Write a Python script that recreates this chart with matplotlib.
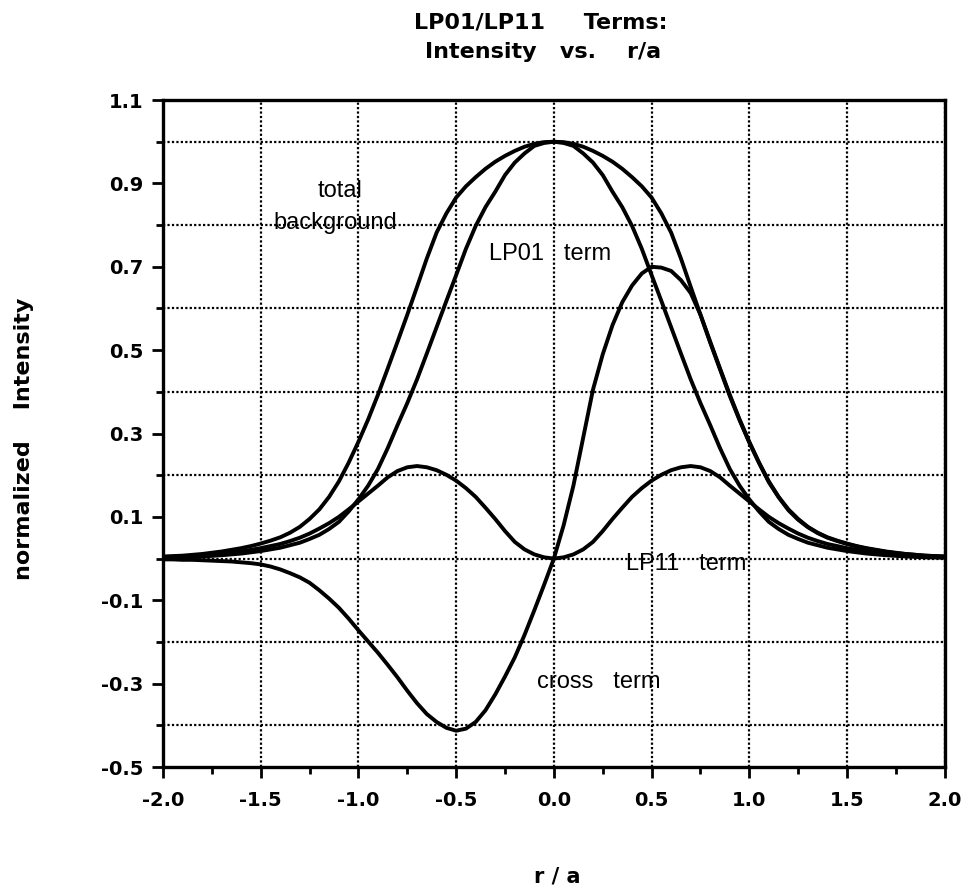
import matplotlib
matplotlib.use("Agg")
import matplotlib.pyplot as plt
from matplotlib.ticker import MultipleLocator, FixedLocator

# radial coordinate r/a, sampled every 0.05
r = [-2.00, -1.95, -1.90, -1.85, -1.80, -1.75, -1.70, -1.65, -1.60, -1.55,
     -1.50, -1.45, -1.40, -1.35, -1.30, -1.25, -1.20, -1.15, -1.10, -1.05,
     -1.00, -0.95, -0.90, -0.85, -0.80, -0.75, -0.70, -0.65, -0.60, -0.55,
     -0.50, -0.45, -0.40, -0.35, -0.30, -0.25, -0.20, -0.15, -0.10, -0.05,
     0.00,
     0.05, 0.10, 0.15, 0.20, 0.25, 0.30, 0.35, 0.40, 0.45, 0.50,
     0.55, 0.60, 0.65, 0.70, 0.75, 0.80, 0.85, 0.90, 0.95, 1.00,
     1.05, 1.10, 1.15, 1.20, 1.25, 1.30, 1.35, 1.40, 1.45, 1.50,
     1.55, 1.60, 1.65, 1.70, 1.75, 1.80, 1.85, 1.90, 1.95, 2.00]

total_background = [
    0.005, 0.006, 0.007, 0.009, 0.011, 0.014, 0.017, 0.021, 0.025, 0.030,
    0.036, 0.043, 0.051, 0.062, 0.076, 0.095, 0.118, 0.148, 0.185, 0.23,
    0.28, 0.334, 0.393, 0.456, 0.52, 0.585, 0.652, 0.72, 0.782, 0.828,
    0.866, 0.893, 0.915, 0.935, 0.952, 0.966, 0.978, 0.988, 0.995, 0.999,
    1.0,
    0.999, 0.995, 0.988, 0.978, 0.966, 0.952, 0.935, 0.915, 0.893, 0.866,
    0.828, 0.782, 0.72, 0.652, 0.585, 0.52, 0.456, 0.393, 0.334, 0.28,
    0.23, 0.185, 0.148, 0.118, 0.095, 0.076, 0.062, 0.051, 0.043, 0.036,
    0.030, 0.025, 0.021, 0.017, 0.014, 0.011, 0.009, 0.007, 0.006, 0.005]

lp01_term = [
    0.002, 0.0025, 0.003, 0.004, 0.005, 0.0065, 0.008, 0.010, 0.012, 0.015,
    0.018, 0.022, 0.026, 0.032, 0.038, 0.047, 0.057, 0.071, 0.088, 0.113,
    0.142, 0.175, 0.215, 0.265, 0.32, 0.373, 0.43, 0.492, 0.555, 0.618,
    0.68, 0.743, 0.798, 0.843, 0.88, 0.92, 0.95, 0.972, 0.99, 0.997,
    1.0,
    0.997, 0.99, 0.972, 0.95, 0.92, 0.88, 0.843, 0.798, 0.743, 0.68,
    0.618, 0.555, 0.492, 0.43, 0.373, 0.32, 0.265, 0.215, 0.175, 0.142,
    0.113, 0.088, 0.071, 0.057, 0.047, 0.038, 0.032, 0.026, 0.022, 0.018,
    0.015, 0.012, 0.010, 0.008, 0.0065, 0.005, 0.004, 0.003, 0.0025, 0.002]

lp11_term = [
    0.003, 0.004, 0.005, 0.006, 0.007, 0.009, 0.011, 0.014, 0.017, 0.021,
    0.025, 0.03, 0.035, 0.042, 0.05, 0.06, 0.072, 0.085, 0.10, 0.118,
    0.137, 0.156, 0.175, 0.195, 0.21, 0.219, 0.222, 0.219, 0.212, 0.201,
    0.187, 0.169, 0.148, 0.122, 0.095, 0.066, 0.04, 0.022, 0.01, 0.003,
    0.0,
    0.003, 0.01, 0.022, 0.04, 0.066, 0.095, 0.122, 0.148, 0.169, 0.187,
    0.201, 0.212, 0.219, 0.222, 0.219, 0.21, 0.195, 0.175, 0.156, 0.137,
    0.118, 0.10, 0.085, 0.072, 0.06, 0.05, 0.042, 0.035, 0.03, 0.025,
    0.021, 0.017, 0.014, 0.011, 0.009, 0.007, 0.006, 0.005, 0.004, 0.003]

cross_term = [
    -0.002, -0.002, -0.003, -0.003, -0.004, -0.005, -0.006, -0.007, -0.009, -0.011,
    -0.014, -0.019, -0.026, -0.035, -0.045, -0.058, -0.076, -0.096, -0.118, -0.144,
    -0.172, -0.199, -0.226, -0.255, -0.285, -0.317, -0.347, -0.373, -0.392, -0.406,
    -0.413, -0.408, -0.392, -0.364, -0.326, -0.283, -0.237, -0.183, -0.124, -0.063,
    0.0,
    0.08, 0.175, 0.29, 0.405, 0.49, 0.56, 0.615, 0.655, 0.684, 0.70,
    0.698, 0.69, 0.668, 0.637, 0.585, 0.518, 0.454, 0.39, 0.332, 0.278,
    0.229, 0.183, 0.147, 0.116, 0.093, 0.075, 0.061, 0.05, 0.042, 0.035,
    0.029, 0.024, 0.02, 0.016, 0.013, 0.011, 0.009, 0.007, 0.006, 0.005]

x_ticks = [-2.0, -1.5, -1.0, -0.5, 0.0, 0.5, 1.0, 1.5, 2.0]
y_ticks = [1.1, 0.9, 0.7, 0.5, 0.3, 0.1, -0.1, -0.3, -0.5]
y_grid = [1.0, 0.8, 0.6, 0.4, 0.2, 0.0, -0.2, -0.4]

BOLD = "DejaVu Sans"
PLAIN = "Liberation Sans"

fig = plt.figure(figsize=(9.7, 8.9), dpi=100)
ax = fig.add_axes([0.168, 0.1382, 0.806, 0.7494])

for series in (total_background, lp01_term, lp11_term, cross_term):
    ax.plot(r, series, color="black", lw=2.8, solid_joinstyle="round",
            solid_capstyle="round", zorder=3)

ax.set_xlim(-2.0, 2.0)
ax.set_ylim(-0.5, 1.1)

ax.xaxis.set_major_locator(FixedLocator(x_ticks))
ax.xaxis.set_minor_locator(MultipleLocator(0.25))
ax.yaxis.set_major_locator(FixedLocator(y_ticks))
ax.yaxis.set_minor_locator(FixedLocator(y_grid))
ax.set_xticklabels([f"{v:.1f}" for v in x_ticks])
ax.set_yticklabels([f"{v:.1f}" for v in y_ticks])

ax.grid(which="major", axis="x", color="black", lw=1.6, linestyle=(0, (1, 1)), zorder=1)
ax.grid(which="minor", axis="y", color="black", lw=1.6, linestyle=(0, (1, 1)), zorder=1)
ax.grid(which="major", axis="y", visible=False)

ax.tick_params(which="major", direction="out", length=8, width=2, color="black")
ax.tick_params(which="minor", direction="out", length=5, width=2, color="black")
ax.tick_params(axis="x", which="major", pad=9)
ax.tick_params(axis="y", which="major", pad=6)
for lab in ax.get_xticklabels() + ax.get_yticklabels():
    lab.set_fontfamily(BOLD)
    lab.set_fontweight("bold")
    lab.set_fontsize(14)

for sp in ax.spines.values():
    sp.set_linewidth(2.4)
    sp.set_color("black")

# curve annotations
ax.text(-0.977, 0.868, "total", ha="right", va="baseline", fontsize=17, family=PLAIN, zorder=2)
ax.text(-1.12, 0.79, "background", ha="center", va="baseline", fontsize=17, family=PLAIN, zorder=4)
ax.text(-0.33, 0.716, "LP01   term", ha="left", va="baseline", fontsize=17, family=PLAIN, zorder=4)
ax.text(0.37, -0.028, "LP11   term", ha="left", va="baseline", fontsize=17, family=PLAIN, zorder=4)
ax.text(-0.085, -0.311, "cross   term", ha="left", va="baseline", fontsize=17, family=PLAIN, zorder=4)

# title, axis labels
fig.text(541 / 970, 1 - 28 / 890, "LP01/LP11     Terms:", ha="center", va="baseline",
         fontsize=16, family=BOLD, fontweight="bold")
fig.text(543 / 970, 1 - 58 / 890, "Intensity   vs.    r/a", ha="center", va="baseline",
         fontsize=16, family=BOLD, fontweight="bold")
fig.text(24 / 970, 1 - 439 / 890, "normalized    Intensity", rotation=90, ha="center", va="center",
         fontsize=16, family=BOLD, fontweight="bold")
fig.text(557 / 970, 1 - 877 / 890, "r / a", ha="center", va="center",
         fontsize=15, family=BOLD, fontweight="bold")

fig.savefig("out.png", dpi=100, facecolor="white")
